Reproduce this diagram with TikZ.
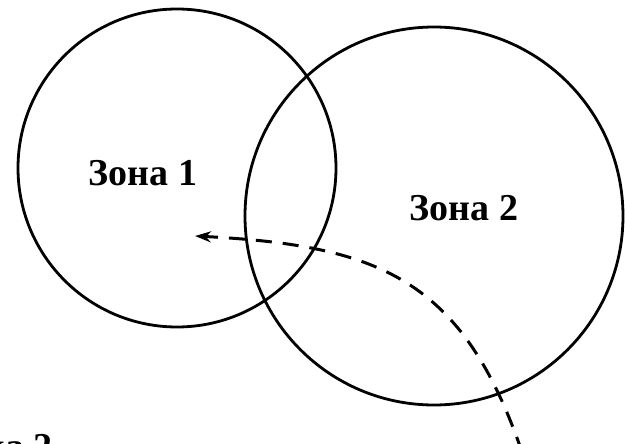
\documentclass[tikz,border=0pt]{standalone}
\usepackage{fontspec}
\setmainfont{Liberation Serif}
\usetikzlibrary{arrows.meta}
\begin{document}
\begin{tikzpicture}[x=1pt,y=-1pt,
  zone/.style={draw=black,line width=2.8pt},
  lbl/.style={font=\fontsize{38}{40}\selectfont\bfseries,inner sep=0pt},
  path2/.style={draw=black,line width=3pt,dash pattern=on 16pt off 11pt,
    -{Stealth[length=16pt,width=11pt]}}]
\useasboundingbox (0,0) rectangle (625,444);
\clip (0,0) rectangle (625,444);
\node[zone,circle,minimum size=318pt,inner sep=0pt] (z1) at (177,168) {};
\node[zone,circle,minimum size=378pt,inner sep=0pt] (z2) at (434,216) {};
\node[lbl] (t1) at (143,173) {Зона 1};
\node[lbl] (t2) at (464,208) {Зона 2};
\node[lbl,anchor=base east] (t3) at (53,459) {ка 2};
\coordinate (s) at (522,452);
\coordinate (e) at (195,236);
\draw[path2] (s) to[out=109,in=-3,looseness=1.2] (e);
\end{tikzpicture}
\end{document}
